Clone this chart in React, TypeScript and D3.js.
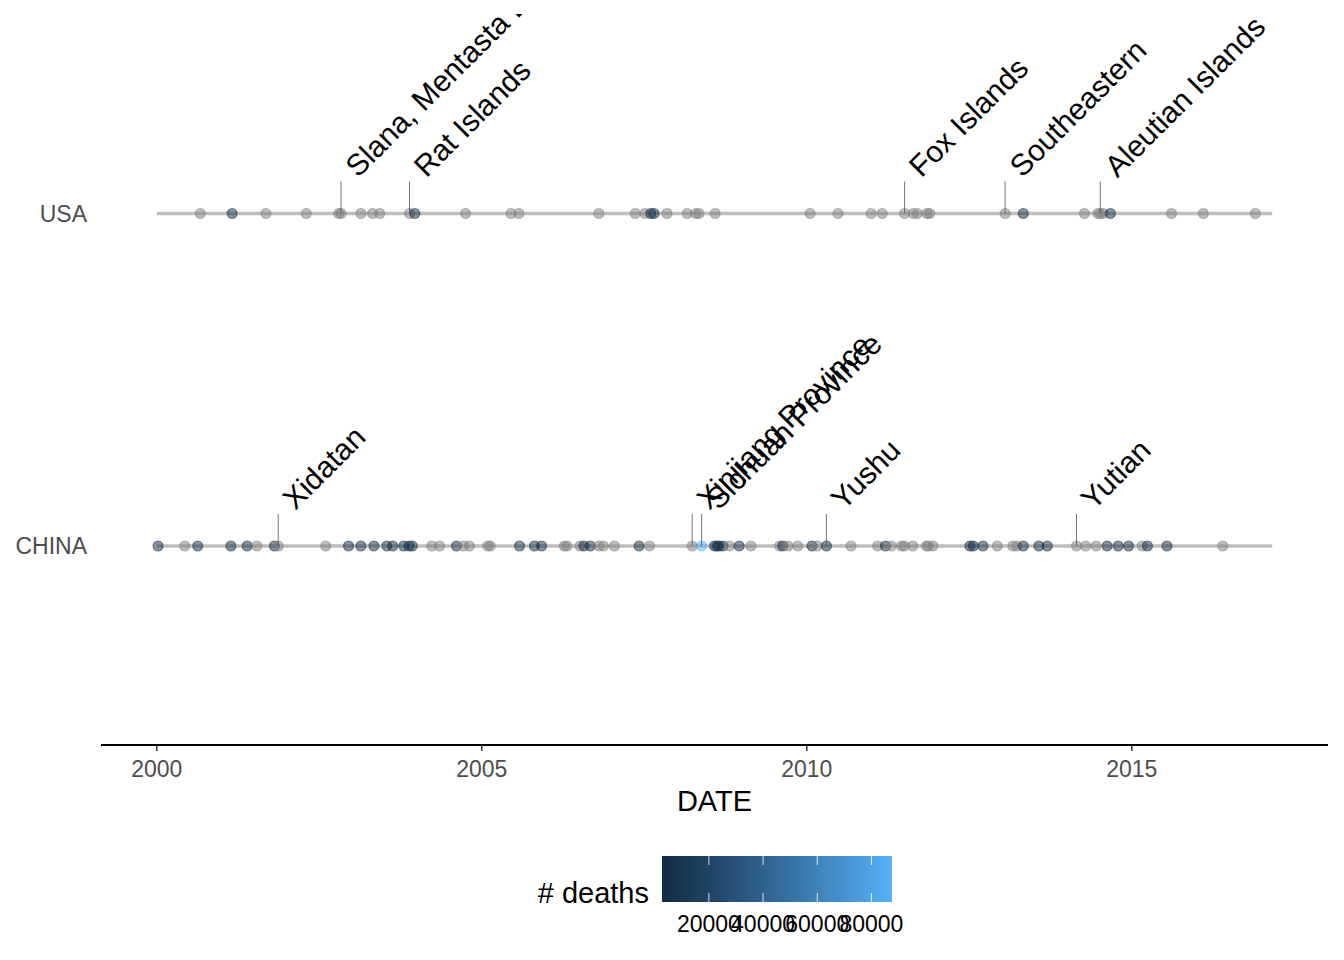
import React from "react";
import * as d3 from "d3";

// ---------------- DATA ----------------
const countries = ["USA", "CHINA"];

// decimal-year dates of events, and deaths (null = not recorded)
const usaDates = [
  2000.67, 2001.16, 2001.68, 2002.3, 2002.8, 2002.835, 2003.14, 2003.32, 2003.43, 2003.888,
  2003.97, 2004.75, 2005.45, 2005.57, 2006.8, 2007.36, 2007.51, 2007.6, 2007.65, 2007.85,
  2008.16, 2008.29, 2008.34, 2008.59, 2010.05, 2010.48, 2010.99, 2011.16, 2011.504, 2011.64,
  2011.7, 2011.85, 2011.89, 2013.051, 2013.33, 2014.27, 2014.48, 2014.515, 2014.56, 2014.67,
  2015.61, 2016.1, 2016.9,
];
const usaDeaths: (number | null)[] = [
  null, 3100, null, null, null, null, null, null, null, null,
  3000, null, null, null, null, null, null, 3200, 3000, null,
  null, null, null, null, null, null, null, null, null, null,
  null, null, null, null, 3100, null, null, null, null, 3000,
  null, null, null,
];

const chinaDates = [
  2000.02, 2000.43, 2000.63, 2001.14, 2001.39, 2001.54, 2001.81, 2001.869, 2002.6, 2002.95,
  2003.14, 2003.34, 2003.54, 2003.63, 2003.8, 2003.88, 2003.93, 2004.23, 2004.35, 2004.61,
  2004.72, 2004.81, 2005.09, 2005.13, 2005.58, 2005.81, 2005.92, 2006.27, 2006.31, 2006.51,
  2006.57, 2006.67, 2006.8, 2006.87, 2007.04, 2007.42, 2007.58, 2008.237, 2008.382, 2008.58,
  2008.62, 2008.65, 2008.71, 2008.81, 2008.96, 2009.14, 2009.58, 2009.63, 2009.71, 2009.86,
  2010.08, 2010.16, 2010.302, 2010.68, 2011.09, 2011.21, 2011.3, 2011.455, 2011.5, 2011.63,
  2011.84, 2011.87, 2011.94, 2012.51, 2012.56, 2012.71, 2012.93, 2013.17, 2013.23, 2013.33,
  2013.57, 2013.7, 2014.149, 2014.29, 2014.45, 2014.62, 2014.79, 2014.95, 2015.16, 2015.24,
  2015.54, 2016.4,
];
const chinaDeaths: (number | null)[] = [
  3200, null, 3100, 3000, 3300, null, 3100, null, null, 3000,
  3400, 3100, 3200, 3000, 3300, 3600, 3100, null, null, 3000,
  null, null, null, null, 3000, 3100, 3200, null, null, null,
  3000, 3300, null, null, null, 3100, null, null, 87587, 4200,
  3500, 3800, 3300, null, 3100, null, null, 3000, null, null,
  3200, null, 2698, null, null, 3000, null, null, null, null,
  null, null, null, 3100, 3300, 3000, null, null, null, 3200,
  3000, 3100, null, null, null, 3300, 3000, 3200, null, 3100,
  3000, null,
];

// labelled events
const usaLabelDates = [2002.835, 2003.888, 2011.504, 2013.051, 2014.515];
const usaLabelTexts = ["Slana, Mentasta Lake", "Rat Islands", "Fox Islands", "Southeastern", "Aleutian Islands"];
const chinaLabelDates = [2001.869, 2008.237, 2008.382, 2010.302, 2014.149];
const chinaLabelTexts = ["Xidatan", "Xinjiang Province", "Sichuan Province", "Yushu", "Yutian"];

// timeline span (start / end of series)
const timelineSpan = [2000.0, 2017.16];

const xTicks = [2000, 2005, 2010, 2015];
const legendTicks = [20000, 40000, 60000, 80000];

// ---------------- CHART ----------------
const W = 1344;
const H = 960;
const FONT = "'Liberation Sans', Arial, Helvetica, sans-serif";

export default function App() {
  const panelLeft = 101;
  const panelRight = 1328;
  const panelTop = 14;
  const panelBottom = 745.5;

  const span = timelineSpan[1] - timelineSpan[0];
  const x = d3
    .scaleLinear()
    .domain([timelineSpan[0] - 0.05 * span, timelineSpan[1] + 0.05 * span])
    .range([panelLeft, panelRight]);
  const y = d3.scalePoint<string>().domain(countries).range([panelTop, panelBottom]).padding(0.6);

  const allDeaths = [...usaDeaths, ...chinaDeaths].filter((d) => d != null) as number[];
  const ext = d3.extent(allDeaths) as [number, number];
  const color = d3
    .scaleLinear<string>()
    .domain(ext)
    .range(["#132B43", "#56B1F7"])
    .interpolate(d3.interpolateLab);

  const rows = [
    { country: "USA", dates: usaDates, deaths: usaDeaths, lDates: usaLabelDates, lTexts: usaLabelTexts },
    { country: "CHINA", dates: chinaDates, deaths: chinaDeaths, lDates: chinaLabelDates, lTexts: chinaLabelTexts },
  ];

  const legX0 = 662;
  const legX1 = 892;
  const legY0 = 856;
  const legY1 = 902;
  const legScale = d3.scaleLinear().domain(ext).range([legX0, legX1]);
  const gradStops = d3.range(0, 1.0001, 0.05);

  const axisY = 745;
  const segLen = 32;

  return (
    <div style={{ position: "fixed", left: 0, top: 0, width: W, height: H, background: "#fff" }}>
      <svg width={W} height={H} style={{ display: "block", fontFamily: FONT }}>
        <defs>
          <linearGradient id="legGrad" x1="0" x2="1" y1="0" y2="0">
            {gradStops.map((t) => (
              <stop key={t} offset={t} stopColor={color(ext[0] + t * (ext[1] - ext[0]))} />
            ))}
          </linearGradient>
          <clipPath id="panelClip">
            <rect x={panelLeft} y={panelTop} width={panelRight - panelLeft} height={panelBottom - panelTop} />
          </clipPath>
        </defs>

        <g clipPath="url(#panelClip)">
          {rows.map((r) => {
            const yy = y(r.country)!;
            return (
              <g key={r.country}>
                <line
                  x1={x(timelineSpan[0])}
                  x2={x(timelineSpan[1])}
                  y1={yy}
                  y2={yy}
                  stroke="#bebebe"
                  strokeWidth={3.6}
                />
                {r.dates.map((d, i) => {
                  const v = r.deaths[i];
                  const c = v == null ? "#7f7f7f" : color(v);
                  return (
                    <circle
                      key={i}
                      cx={x(d)}
                      cy={yy}
                      r={5}
                      fill={c}
                      fillOpacity={0.5}
                      stroke={c}
                      strokeOpacity={0.5}
                      strokeWidth={1.2}
                    />
                  );
                })}
                {r.lDates.map((d, i) => (
                  <line
                    key={"s" + i}
                    x1={x(d)}
                    x2={x(d)}
                    y1={yy}
                    y2={yy - segLen}
                    stroke="#555"
                    strokeWidth={1}
                    strokeOpacity={0.8}
                  />
                ))}
                {r.lDates.map((d, i) => {
                  const tx = x(d) + 17;
                  const ty = yy - segLen - 3;
                  return (
                    <text
                      key={"t" + i}
                      x={tx}
                      y={ty}
                      transform={`rotate(-45 ${tx} ${ty})`}
                      fontSize={30}
                      fill="#000"
                    >
                      {r.lTexts[i]}
                    </text>
                  );
                })}
              </g>
            );
          })}
        </g>

        {rows.map((r) => (
          <text key={"yl" + r.country} x={87} y={y(r.country)! + 8} textAnchor="end" fontSize={23} fill="#4d4d4d">
            {r.country}
          </text>
        ))}

        {/* x axis */}
        <line x1={panelLeft} x2={panelRight} y1={axisY} y2={axisY} stroke="#000" strokeWidth={2.2} />
        {xTicks.map((t) => (
          <g key={t}>
            <line x1={x(t)} x2={x(t)} y1={axisY} y2={axisY + 6} stroke="#333" strokeWidth={1.5} />
            <text x={x(t)} y={777} textAnchor="middle" fontSize={23} fill="#4d4d4d">
              {t}
            </text>
          </g>
        ))}
        <text x={(panelLeft + panelRight) / 2} y={811} textAnchor="middle" fontSize={29} fill="#000">
          DATE
        </text>

        {/* legend */}
        <text x={649} y={903} textAnchor="end" fontSize={29} fill="#000">
          # deaths
        </text>
        <rect x={legX0} y={legY0} width={legX1 - legX0} height={legY1 - legY0} fill="url(#legGrad)" />
        {legendTicks.map((t) => (
          <g key={t}>
            <line x1={legScale(t)} x2={legScale(t)} y1={legY0} y2={legY0 + 9} stroke="#fff" strokeWidth={1} strokeOpacity={0.8} />
            <line x1={legScale(t)} x2={legScale(t)} y1={legY1 - 9} y2={legY1} stroke="#fff" strokeWidth={1} strokeOpacity={0.8} />
            <text x={legScale(t)} y={931.5} textAnchor="middle" fontSize={23} fill="#000">
              {t}
            </text>
          </g>
        ))}
      </svg>
    </div>
  );
}
